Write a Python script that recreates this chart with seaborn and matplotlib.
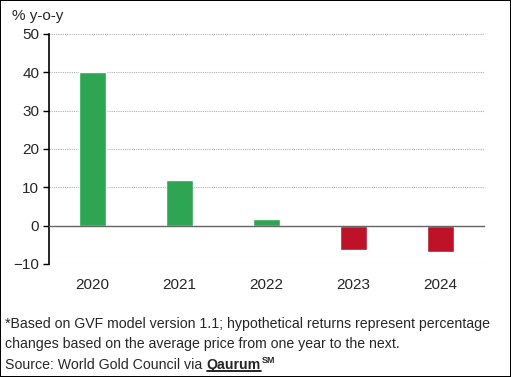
import matplotlib
matplotlib.use("Agg")
import matplotlib.pyplot as plt
import seaborn as sns
import pandas as pd

# --- data ---
years = ["2020", "2021", "2022", "2023", "2024"]
returns = [40.0, 12.0, 1.8, -6.3, -6.8]

GREEN = "#2ea553"
RED = "#be1229"

sns.set_style("white")
plt.rcParams["font.family"] = ["Liberation Sans", "DejaVu Sans"]

df = pd.DataFrame({"year": years, "ret": returns})
df["sign"] = ["pos" if v >= 0 else "neg" for v in returns]

fig = plt.figure(figsize=(5.11, 3.77), dpi=100, edgecolor="black", linewidth=1.2)
ax = fig.add_axes([0.096, 0.300, 0.851, 0.610])

sns.barplot(data=df, x="year", y="ret", hue="sign", palette={"pos": GREEN, "neg": RED},
            width=0.32, dodge=False, legend=False, ax=ax, saturation=1)

ax.set_ylim(-10, 50)
ax.set_xlim(-0.5, len(years) - 0.5)
ax.set_yticks([-10, 0, 10, 20, 30, 40, 50])
ax.yaxis.grid(True, linestyle=(0, (1, 1)), color="#b0b0b0", linewidth=0.8)
ax.set_axisbelow(True)
ax.set_xlabel("")
ax.set_ylabel("")

for s in ["top", "right"]:
    ax.spines[s].set_visible(False)
ax.spines["left"].set_color("black")
ax.spines["left"].set_linewidth(1.2)
ax.spines["bottom"].set_position(("data", 0))
ax.spines["bottom"].set_color("#666666")
ax.spines["bottom"].set_linewidth(1.0)

ax.tick_params(axis="y", direction="out", length=4, width=1, color="black",
               labelsize=11, pad=3, left=True)
ax.set_xticks([i + 0.5 for i in range(len(years))], minor=True)
ax.tick_params(axis="x", which="minor", direction="out", length=5, width=1, color="#666666")
ax.tick_params(axis="x", which="major", length=0, labelsize=11, pad=38)

fig.text(0.024, 0.958, "% y-o-y", fontsize=11, va="center", ha="left")

fig.text(0.010, 0.141, "*Based on GVF model version 1.1; hypothetical returns represent percentage",
         fontsize=10.2, va="center", ha="left")
fig.text(0.010, 0.088, "changes based on the average price from one year to the next.",
         fontsize=10.2, va="center", ha="left")
src = fig.text(0.010, 0.032, "Source: World Gold Council via", fontsize=10.2, va="center", ha="left")

fig.canvas.draw()
r = fig.canvas.get_renderer()
bb = src.get_window_extent(r).transformed(fig.transFigure.inverted())
q = fig.text(bb.x1 + 0.0085, 0.032, "Qaurum", fontsize=10.2, fontweight="bold", va="center", ha="left")
qb = q.get_window_extent(r).transformed(fig.transFigure.inverted())
fig.add_artist(plt.Line2D([qb.x0, qb.x1], [qb.y0 + 0.002, qb.y0 + 0.002], color="black",
                          linewidth=1.2, transform=fig.transFigure))
fig.text(qb.x1 + 0.002, 0.045, "SM", fontsize=6.5, fontweight="bold", va="center", ha="left")

fig.savefig("out.png", dpi=100)
